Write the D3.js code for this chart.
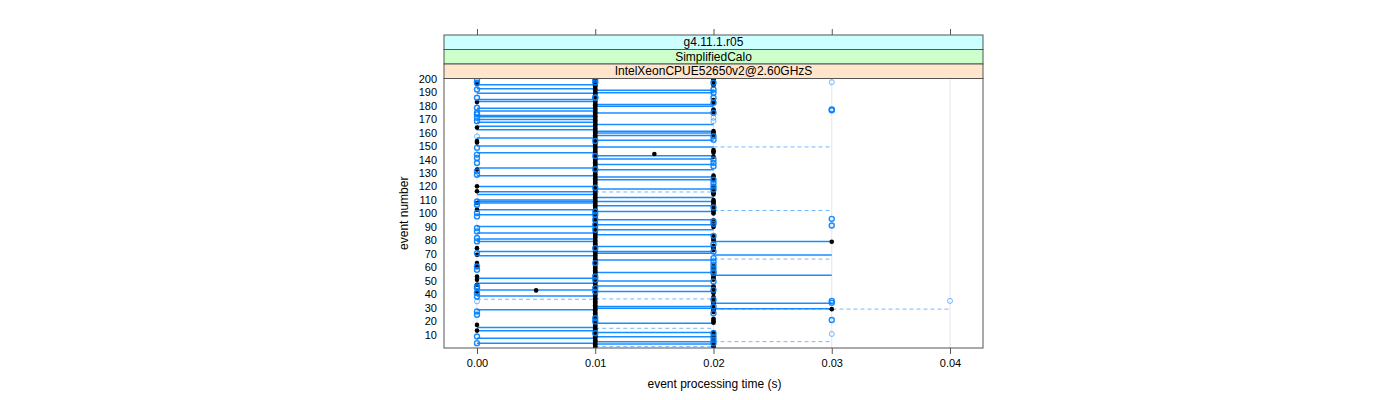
<!DOCTYPE html>
<html><head><meta charset="utf-8">
<script src="https://cdn.jsdelivr.net/npm/d3@7"></script>
<style>body{margin:0;background:#fff}svg{display:block}text{font-family:"Liberation Sans",Arial,sans-serif}</style>
</head><body>
<svg id="c" width="1400" height="400"></svg>
<script>
// ---- data ----
const strips = ["g4.11.1.r05", "SimplifiedCalo", "IntelXeonCPUE52650v2@2.60GHzS"];
const stripColors = ["#ccffff", "#ccffcc", "#ffe5cc"];
const xTicks = [0, 0.01, 0.02, 0.03, 0.04];
const xTickLabels = ["0.00", "0.01", "0.02", "0.03", "0.04"];
const yTicks = [10,20,30,40,50,60,70,80,90,100,110,120,130,140,150,160,170,180,190,200];

// solid segments (event number) grouped by time span
const solid_0_1 = [195.3,192.4,189,184.4,183,178,176,172.5,171.6,169.6,167.5,164.6,162,156,150,145,133.7,128,120,116,114,110,108.9,107.7,102.8,99,90.4,85.5,81,79.3,71.8,68.6,52,48.3,43.3,38.9,28.6,15.5,13,7.6,3.9];
const solid_1_2 = [191.3,189.4,180.7,179.4,174.5,166,160.9,159.7,157.7,154.2,149.3,142.8,140.4,136.2,132.4,127,125,118.1,111.9,108.8,105.8,101.5,95.3,91.6,87.9,84.2,75.5,71.8,70.6,65.6,56.2,50,46.3,42.1,31,29.8,18.6,11.7,8.7,5,3.3];
const solid_2_3 = [79.3,69.3,54.2,33.5,29.4];
// dashed segments
const dashed_0_1 = [36.4];
const dashed_1_2 = [115.9,36.7,14.9,1.3];
const dashed_2_3 = [149.3,102.2,66.2,5];
const dashed_2_4 = [29.1];

// open circles by time column
const open_000 = [199.2,196.8,191.9,185.7,178.3,174.6,173.4,170.9,168.4,148.6,143.6,141.1,137.4,131.2,128.7,108.9,106.5,100.3,97.8,89.2,86.7,81.8,79.3,70.6,60.7,58.2,45.9,44.7,41,38.5,27.4,24.9,8.8,3.9];
const open_001 = [199,197,186,185.7,153.7,142.6,132.7,119.1,101.5,99,95.3,91.6,87.9,74.3,63.2,53.3,50.8,44.7,42.1,22.3,19.9,11.2];
const open_002 = [196.8,191.9,189.4,185.7,182,174.6,157.2,154.7,140,137.5,135,125,122.5,120,117.8,104.4,94,92.3,83.4,77.2,71.8,66.9,64.5,62,59.5,57,55.8,49.6,43.4,36,31,26.1,11.2,8.7,6.2,3.8];
const open_003 = [177,176.5,96,91.1,35.2,33.8,21.1];
// faint open circles [time, event]
const openFaint = [[0,157.2],[0,34.8],[0.02,170.9],[0.02,168.4],[0.03,197.3],[0.03,10.7],[0.04,35.2]];

// black filled points
const black_000 = [196,182.5,163.6,153.7,152.5,132.5,120.1,116.4,107.7,102.8,74.3,69.4,63.2,60.5,53.3,50.8,47.1,42.1,17.4,13.2];
const blackRuns_001 = [[1,200]];
const blackRuns_002 = [[198,200],[195,196],[182,184],[175,177],[158,161],[145,147],[142,142],[125,128],[114,120],[100,110],[90,95],[80,83],[73,76],[51,61],[41,46],[33,38],[27,30],[19,22],[1,12]];
const black_003 = [79,29.1];
const blackOther = [[0.005,43],[0.015,144]];

// ---- drawing ----
const svg = d3.select("#c");
const L = 444, R = 983, T = 78.5, B = 348;
const x = d3.scaleLinear().domain([-0.00279, 0.04279]).range([L, R]);
const y = d3.scaleLinear().domain([0.3, 200]).range([B, T]);
const blue = "#0080ff";

const clip = svg.append("clipPath").attr("id","pc").append("rect")
  .attr("x", L).attr("y", T).attr("width", R-L).attr("height", B-T);

// gridlines
svg.append("g").selectAll("line").data(xTicks).join("line")
  .attr("x1", d=>x(d)).attr("x2", d=>x(d)).attr("y1", T).attr("y2", B)
  .attr("stroke", "#e6e6e6").attr("stroke-width", 1);

const g = svg.append("g").attr("clip-path","url(#pc)");

function segs(arr, t0, t1, dashed) {
  g.append("g").selectAll("line").data(arr).join("line")
    .attr("x1", x(t0)).attr("x2", x(t1))
    .attr("y1", d=>y(d)).attr("y2", d=>y(d))
    .attr("stroke", blue)
    .attr("stroke-width", dashed ? 1 : 1.5)
    .attr("stroke-opacity", dashed ? 0.55 : 0.9)
    .attr("stroke-dasharray", dashed ? "4,3" : null);
}
segs(dashed_0_1, 0, 0.01, true);
segs(dashed_1_2, 0.01, 0.02, true);
segs(dashed_2_3, 0.02, 0.03, true);
segs(dashed_2_4, 0.02, 0.04, true);
segs(solid_0_1, 0, 0.01, false);
segs(solid_1_2, 0.01, 0.02, false);
segs(solid_2_3, 0.02, 0.03, false);

function expand(runs){ const out=[]; runs.forEach(([a,b])=>{ for(let e=a;e<=b;e++) out.push(e); }); return out; }
const blackPts = [].concat(
  black_000.map(e=>[0,e]),
  expand(blackRuns_001).map(e=>[0.01,e]),
  expand(blackRuns_002).map(e=>[0.02,e]),
  black_003.map(e=>[0.03,e]),
  blackOther);
g.append("g").selectAll("circle").data(blackPts).join("circle")
  .attr("cx", d=>x(d[0])).attr("cy", d=>y(d[1])).attr("r", 2.3).attr("fill", "#000");

const openPts = [].concat(
  open_000.map(e=>[0,e]), open_001.map(e=>[0.01,e]),
  open_002.map(e=>[0.02,e]), open_003.map(e=>[0.03,e]));
g.append("g").selectAll("circle").data(openPts).join("circle")
  .attr("cx", d=>x(d[0])).attr("cy", d=>y(d[1])).attr("r", 2.5)
  .attr("fill", "none").attr("stroke", blue).attr("stroke-width", 1.4).attr("stroke-opacity", 0.9);
g.append("g").selectAll("circle").data(openFaint).join("circle")
  .attr("cx", d=>x(d[0])).attr("cy", d=>y(d[1])).attr("r", 2.5)
  .attr("fill", "none").attr("stroke", blue).attr("stroke-width", 1).attr("stroke-opacity", 0.55);

// strips
const stripTop = 35, stripH = (T - stripTop) / 3;
strips.forEach((s, i) => {
  svg.append("rect").attr("x", L).attr("y", stripTop + i*stripH).attr("width", R-L).attr("height", stripH)
    .attr("fill", stripColors[i]).attr("stroke", "#555").attr("stroke-width", 1);
  svg.append("text").attr("x", (L+R)/2).attr("y", stripTop + i*stripH + stripH/2 + 4)
    .attr("text-anchor","middle").attr("font-size", 12).attr("fill","#000").text(s);
});

// panel border
svg.append("rect").attr("x", L).attr("y", T).attr("width", R-L).attr("height", B-T)
  .attr("fill","none").attr("stroke","#555").attr("stroke-width",1);

// x axis bottom
const xb = svg.append("g").attr("transform", `translate(0,${B})`)
  .call(d3.axisBottom(x).tickValues(xTicks).tickFormat((d,i)=>xTickLabels[i]).tickSize(6).tickPadding(5));
xb.select(".domain").remove();
xb.selectAll("line").attr("stroke","#555");
xb.selectAll("text").attr("font-size", 11).attr("font-family","Liberation Sans, Arial, sans-serif");
// x axis top ticks (above strips)
const xt = svg.append("g").attr("transform", `translate(0,${stripTop})`)
  .call(d3.axisTop(x).tickValues(xTicks).tickFormat("").tickSize(6));
xt.select(".domain").remove();
xt.selectAll("line").attr("stroke","#555");

// y axis
const ya = svg.append("g").attr("transform", `translate(${L},0)`)
  .call(d3.axisLeft(y).tickValues(yTicks).tickSize(0).tickPadding(7));
ya.select(".domain").remove();
ya.selectAll("text").attr("font-size", 11).attr("font-family","Liberation Sans, Arial, sans-serif");

// axis titles
svg.append("text").attr("x", (L+R)/2 + 1).attr("y", 388).attr("text-anchor","middle")
  .attr("font-size", 12).text("event processing time (s)");
svg.append("text").attr("transform", `translate(408,${(T+B)/2}) rotate(-90)`).attr("text-anchor","middle")
  .attr("font-size", 12).text("event number");
</script>
</body></html>
